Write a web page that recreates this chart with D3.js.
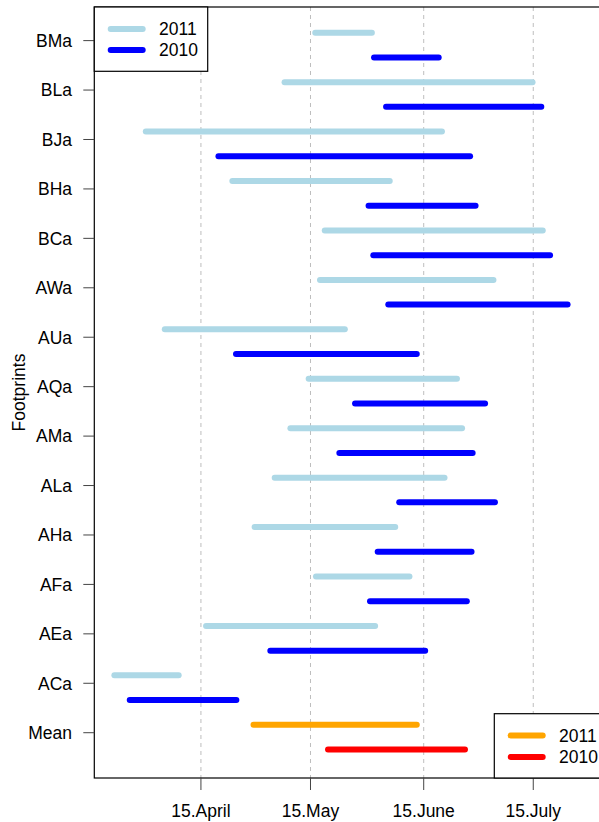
<!DOCTYPE html>
<html>
<head>
<meta charset="utf-8">
<script src="https://cdn.jsdelivr.net/npm/d3@7"></script>
<style>
  html, body { margin: 0; padding: 0; background: #fff; }
  svg { display: block; font-family: "Liberation Sans", Arial, Helvetica, sans-serif; }
</style>
</head>
<body>
<div id="chart"></div>
<script>
// ---- data (day of year) ----
const categories = ["Mean","ACa","AEa","AFa","AHa","ALa","AMa","AQa","AUa","AWa","BCa","BHa","BJa","BLa","BMa"];
const start2011 = [119.4, 81.3, 106.4, 136.5, 119.7, 125.2, 129.5, 134.5,  95.1, 137.6, 138.9, 113.6,  89.9, 127.9, 136.3];
const end2011   = [164.1, 98.9, 152.7, 162.1, 158.2, 171.7, 176.5, 175.1, 144.4, 185.1, 198.6, 156.7, 171.0, 195.8, 151.8];
const start2010 = [139.8, 85.5, 124.0, 151.3, 153.4, 159.3, 142.9, 147.2, 114.6, 156.3, 152.2, 150.9, 109.8, 155.7, 152.4];
const end2010   = [177.3, 114.7, 166.4, 177.8, 179.1, 185.5, 179.4, 182.8, 164.1, 205.4, 200.6, 180.2, 178.7, 198.2, 170.1];
const tickDays   = [105, 135, 166, 196];
const tickLabels = ["15.April", "15.May", "15.June", "15.July"];
const years = ["2011", "2010"];
const colors2011 = "#ADD8E6", colors2010 = "#0000FF";
const meanColors = ["#FFA500", "#FF0000"];

(function () {
const W = 599, H = 822;
const pLeft = 94.3, pRight = 599, pTop = 7, pBottom = 778;
const FS = 17.5;

const svg = d3.select("#chart").append("svg").attr("width", W).attr("height", H);

const x = d3.scaleLinear().domain([75.8, 214]).range([pLeft, pRight]);
const y = d3.scaleLinear().domain([-0.916, 14.68]).range([pBottom, pTop]);

// grid lines
svg.append("g").selectAll("line").data(tickDays).join("line")
  .attr("x1", d => x(d)).attr("x2", d => x(d))
  .attr("y1", pTop).attr("y2", pBottom)
  .attr("stroke", "#bebebe").attr("stroke-width", 1).attr("stroke-dasharray", "4,4");

// bars
const rows = categories.map((c, i) => ({c, i, s11: start2011[i], e11: end2011[i], s10: start2010[i], e10: end2010[i]}));
const g = svg.append("g").attr("stroke-linecap", "round").attr("stroke-width", 6);
g.selectAll("line.b11").data(rows).join("line").attr("class", "b11")
  .attr("x1", d => x(d.s11)).attr("x2", d => x(d.e11))
  .attr("y1", d => y(d.i + 0.16)).attr("y2", d => y(d.i + 0.16))
  .attr("stroke", d => d.c === "Mean" ? meanColors[0] : colors2011);
g.selectAll("line.b10").data(rows).join("line").attr("class", "b10")
  .attr("x1", d => x(d.s10)).attr("x2", d => x(d.e10))
  .attr("y1", d => y(d.i - 0.34)).attr("y2", d => y(d.i - 0.34))
  .attr("stroke", d => d.c === "Mean" ? meanColors[1] : colors2010);

// frame (right side off-canvas)
svg.append("rect").attr("x", pLeft).attr("y", pTop).attr("width", pRight - pLeft + 10).attr("height", pBottom - pTop)
  .attr("fill", "none").attr("stroke", "#000").attr("stroke-width", 1.2);

// x axis
const xAxis = svg.append("g");
xAxis.selectAll("line").data(tickDays).join("line")
  .attr("x1", d => x(d)).attr("x2", d => x(d)).attr("y1", pBottom).attr("y2", pBottom + 12)
  .attr("stroke", "#444").attr("stroke-width", 1);
xAxis.selectAll("text").data(tickDays).join("text")
  .attr("x", d => x(d)).attr("y", 817).attr("text-anchor", "middle")
  .attr("font-size", FS).attr("fill", "#000")
  .text((d, i) => tickLabels[i]);

// y axis
const yAxis = svg.append("g");
yAxis.selectAll("line").data(categories).join("line")
  .attr("x1", pLeft - 11).attr("x2", pLeft).attr("y1", (d, i) => y(i)).attr("y2", (d, i) => y(i))
  .attr("stroke", "#444").attr("stroke-width", 1);
yAxis.selectAll("text").data(categories).join("text")
  .attr("x", 72).attr("y", (d, i) => y(i)).attr("dy", "0.36em").attr("text-anchor", "end")
  .attr("font-size", FS).attr("fill", "#000").text(d => d);

// y title
svg.append("text").attr("transform", `translate(25,${(pTop + pBottom) / 2}) rotate(-90)`)
  .attr("text-anchor", "middle").attr("font-size", FS).attr("fill", "#000").text("Footprints");

// legends
function legend(bx, by, bw, bh, lx1, lx2, ys, tx, cols) {
  const lg = svg.append("g");
  lg.append("rect").attr("x", bx).attr("y", by).attr("width", bw).attr("height", bh)
    .attr("fill", "#fff").attr("stroke", "#000").attr("stroke-width", 1.2);
  years.forEach((yr, i) => {
    lg.append("line").attr("x1", lx1).attr("x2", lx2).attr("y1", ys[i]).attr("y2", ys[i])
      .attr("stroke", cols[i]).attr("stroke-width", 6).attr("stroke-linecap", "round");
    lg.append("text").attr("x", tx).attr("y", ys[i]).attr("dy", "0.36em")
      .attr("font-size", FS).attr("fill", "#000").text(yr);
  });
}
legend(pLeft, pTop, 207.7 - pLeft, 71.3 - pTop, 110.7, 142.7, [29, 50], 159, [colors2011, colors2010]);
legend(494.3, 713.7, 120, pBottom - 713.7, 510.7, 542.7, [735.5, 757], 559, meanColors);
})();
</script>
</body>
</html>
